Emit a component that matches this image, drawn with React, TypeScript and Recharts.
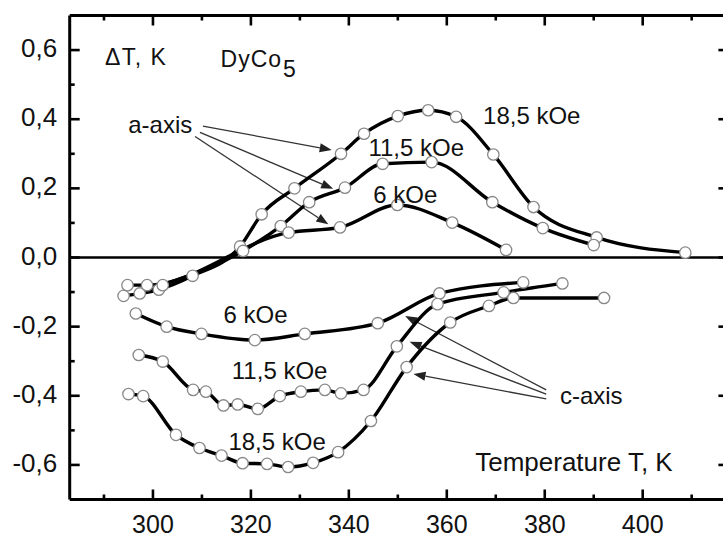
import React from 'react';
import { ComposedChart, Line, XAxis, YAxis, ReferenceLine, ReferenceDot } from 'recharts';

// ---------- data (T in K, dT in K) ----------
const a185 = [
  { t: 294.0, v: -0.111 }, { t: 301.2, v: -0.093 }, { t: 308.1, v: -0.053 }, { t: 317.8, v: 0.032 },
  { t: 322.2, v: 0.125 }, { t: 328.9, v: 0.2 }, { t: 338.4, v: 0.3 }, { t: 343.1, v: 0.358 },
  { t: 350.0, v: 0.409 }, { t: 356.2, v: 0.426 }, { t: 361.9, v: 0.407 }, { t: 369.5, v: 0.298 },
  { t: 377.7, v: 0.146 }, { t: 390.6, v: 0.058 }, { t: 408.7, v: 0.014 },
];
const a115 = [
  { t: 297.3, v: -0.104 }, { t: 302.0, v: -0.08 }, { t: 318.4, v: 0.019 }, { t: 326.1, v: 0.091 },
  { t: 331.9, v: 0.16 }, { t: 339.2, v: 0.202 }, { t: 346.9, v: 0.271 }, { t: 356.9, v: 0.276 },
  { t: 369.3, v: 0.16 }, { t: 379.6, v: 0.085 }, { t: 390.0, v: 0.036 },
];
const a6 = [
  { t: 294.8, v: -0.08 }, { t: 298.8, v: -0.08 }, { t: 327.7, v: 0.072 }, { t: 338.2, v: 0.087 },
  { t: 349.9, v: 0.152 }, { t: 361.1, v: 0.101 }, { t: 372.1, v: 0.022 },
];
const c6 = [
  { t: 296.5, v: -0.162 }, { t: 302.8, v: -0.2 }, { t: 309.9, v: -0.221 }, { t: 320.8, v: -0.239 },
  { t: 331.0, v: -0.221 }, { t: 345.9, v: -0.19 }, { t: 358.5, v: -0.104 }, { t: 375.6, v: -0.072 },
];
const c115 = [
  { t: 297.1, v: -0.282 }, { t: 302.0, v: -0.301 }, { t: 308.2, v: -0.383 }, { t: 310.8, v: -0.388 },
  { t: 314.4, v: -0.428 }, { t: 317.3, v: -0.425 }, { t: 321.4, v: -0.438 }, { t: 325.9, v: -0.401 },
  { t: 330.2, v: -0.388 }, { t: 335.1, v: -0.383 }, { t: 338.4, v: -0.393 }, { t: 343.0, v: -0.383 },
  { t: 349.8, v: -0.257 }, { t: 358.1, v: -0.135 }, { t: 371.6, v: -0.101 }, { t: 383.6, v: -0.075 },
];
const c185 = [
  { t: 295.0, v: -0.395 }, { t: 298.0, v: -0.401 }, { t: 304.7, v: -0.513 }, { t: 309.5, v: -0.551 },
  { t: 314.0, v: -0.573 }, { t: 318.3, v: -0.595 }, { t: 323.3, v: -0.597 }, { t: 327.6, v: -0.606 },
  { t: 332.7, v: -0.594 }, { t: 337.8, v: -0.563 }, { t: 344.5, v: -0.473 }, { t: 351.8, v: -0.317 },
  { t: 360.7, v: -0.188 }, { t: 368.6, v: -0.14 }, { t: 373.6, v: -0.117 }, { t: 392.1, v: -0.117 },
];

const xDomain = [283, 417.5];
const yDomain = [-0.7, 0.7];
const xTicks = [290, 300, 310, 320, 330, 340, 350, 360, 370, 380, 390, 400, 410];
const xLabelTicks = [300, 320, 340, 360, 380, 400];
const yTicks = [-0.6, -0.5, -0.4, -0.3, -0.2, -0.1, 0, 0.1, 0.2, 0.3, 0.4, 0.5, 0.6];
const yLabelTicks = [-0.6, -0.4, -0.2, 0, 0.2, 0.4, 0.6];

// text annotations (anchored at data coordinates: left edge / baseline)
const labels = [
  { t: 367.4, v: 0.385, text: '18,5 kOe', size: 24 },
  { t: 344.0, v: 0.294, text: '11,5 kOe', size: 24 },
  { t: 345.0, v: 0.159, text: '6 kOe', size: 24 },
  { t: 314.4, v: -0.189, text: '6 kOe', size: 24 },
  { t: 316.1, v: -0.351, text: '11,5 kOe', size: 24 },
  { t: 315.4, v: -0.557, text: '18,5 kOe', size: 24 },
  { t: 294.96, v: 0.359, text: 'a-axis', size: 24 },
  { t: 383.1, v: -0.425, text: 'c-axis', size: 24 },
  { t: 365.8, v: -0.617, text: 'Temperature T, K', size: 26 },
];
const yTitle = { t: 290.2, v: 0.557, text: '\u0394T, K' };
const compound = { t: 313.8, v: 0.552, base: 'DyCo', sub: '5' };

// arrows: from (t1,v1) to tip (t2,v2)
const arrows = [
  { t1: 310.2, v1: 0.38, t2: 336.5, v2: 0.311 },
  { t1: 309.6, v1: 0.362, t2: 336.8, v2: 0.199 },
  { t1: 308.6, v1: 0.35, t2: 335.8, v2: 0.096 },
  { t1: 380.3, v1: -0.383, t2: 351.5, v2: -0.169 },
  { t1: 380.3, v1: -0.395, t2: 352.4, v2: -0.244 },
  { t1: 380.3, v1: -0.409, t2: 353.2, v2: -0.337 },
];

const FONT = '"Liberation Sans", Arial, Helvetica, sans-serif';
const isMajorX = (v: number) => v % 20 === 0;
const isMajorY = (v: number) => Math.round(v * 10) % 2 === 0;

const BottomTick = (p: any) => {
  const { x, y, payload } = p;
  const v = payload.value;
  const major = isMajorX(v);
  return (
    <g>
      <line x1={x} x2={x} y1={y} y2={y - (major ? 10 : 5)} stroke="#000" strokeWidth={2.6} />
      {xLabelTicks.includes(v) && (
        <text x={x} y={y + 33} textAnchor="middle" fontSize={25} fontFamily={FONT} fill="#111">{v}</text>
      )}
    </g>
  );
};
const TopTick = (p: any) => {
  const { x, y, payload } = p;
  const major = isMajorX(payload.value);
  return <line x1={x} x2={x} y1={y} y2={y + (major ? 10 : 5)} stroke="#000" strokeWidth={2.6} />;
};
const LeftTick = (p: any) => {
  const { x, y, payload } = p;
  const v = payload.value;
  const major = isMajorY(v);
  const show = yLabelTicks.some((u) => Math.abs(u - v) < 1e-9);
  return (
    <g>
      <line x1={x} x2={x + (major ? 10 : 5)} y1={y} y2={y} stroke="#000" strokeWidth={2.6} />
      {show && (
        <text x={x - 12.5} y={y + 7} textAnchor="end" fontSize={26} fontFamily={FONT} fill="#111">
          {v.toFixed(1).replace('.', ',')}
        </text>
      )}
    </g>
  );
};
const RightTick = (p: any) => {
  const { x, y, payload } = p;
  const major = isMajorY(payload.value);
  return <line x1={x} x2={x - (major ? 10 : 5)} y1={y} y2={y} stroke="#000" strokeWidth={2.6} />;
};

const Dot = (p: any) => {
  const { cx, cy, index } = p;
  if (cx == null || cy == null) return <g key={index} />;
  return <circle key={index} cx={cx} cy={cy} r={5.7} fill="#fff" stroke="#888" strokeWidth={1.3} />;
};

const Arrow = (p: any) => {
  const { x1, y1, x2, y2 } = p;
  const dx = x2 - x1;
  const dy = y2 - y1;
  const len = Math.sqrt(dx * dx + dy * dy) || 1;
  const ux = dx / len;
  const uy = dy / len;
  const L = 12;
  const W = 4.5;
  const bx = x2 - ux * L;
  const by = y2 - uy * L;
  const pts = `${x2},${y2} ${bx - uy * W},${by + ux * W} ${bx + uy * W},${by - ux * W}`;
  return (
    <g>
      <line x1={x1} y1={y1} x2={bx} y2={by} stroke="#333" strokeWidth={1.3} />
      <polygon points={pts} fill="#222" />
    </g>
  );
};

const series = [a185, a115, a6, c6, c115, c185];

export default function App() {
  return (
    <div style={{ position: 'absolute', left: 0, top: 0, width: 723, height: 538, overflow: 'hidden', background: '#fff' }}>
      <ComposedChart width={735} height={538} margin={{ top: 14.5, right: 5.6, bottom: 37.5, left: 68.7 }}>
        <XAxis xAxisId="b" type="number" dataKey="t" orientation="bottom" domain={xDomain} ticks={xTicks}
          allowDataOverflow height={1} tickSize={0} tickMargin={0} tickLine={false}
          axisLine={{ stroke: '#000', strokeWidth: 3 }} tick={<BottomTick />} interval={0} />
        <XAxis xAxisId="t" type="number" dataKey="t" orientation="top" domain={xDomain} ticks={xTicks}
          allowDataOverflow height={1} tickSize={0} tickMargin={0} tickLine={false}
          axisLine={{ stroke: '#000', strokeWidth: 3 }} tick={<TopTick />} interval={0} />
        <YAxis yAxisId="l" type="number" dataKey="v" orientation="left" domain={yDomain} ticks={yTicks}
          allowDataOverflow width={1} tickSize={0} tickMargin={0} tickLine={false}
          axisLine={{ stroke: '#000', strokeWidth: 3 }} tick={<LeftTick />} interval={0} />
        <YAxis yAxisId="r" type="number" dataKey="v" orientation="right" domain={yDomain} ticks={yTicks}
          allowDataOverflow width={1} tickSize={0} tickMargin={0} tickLine={false}
          axisLine={{ stroke: '#000', strokeWidth: 3 }} tick={<RightTick />} interval={0} />

        <ReferenceLine xAxisId="b" yAxisId="l" y={0} stroke="#000" strokeWidth={2.6} />

        {arrows.map((a, i) => (
          <ReferenceLine key={'ar' + i} xAxisId="b" yAxisId="l" ifOverflow="visible"
            segment={[{ x: a.t1, y: a.v1 }, { x: a.t2, y: a.v2 }]} shape={<Arrow />} />
        ))}

        {series.map((d, i) => (
          <Line key={'s' + i} xAxisId="b" yAxisId="l" data={d} dataKey="v" type="monotone"
            stroke="#000" strokeWidth={3.4} dot={<Dot />} activeDot={false} isAnimationActive={false} />
        ))}

        {labels.map((l, i) => (
          <ReferenceDot key={'lb' + i} xAxisId="b" yAxisId="l" x={l.t} y={l.v} r={0} ifOverflow="visible"
            shape={(p: any) => (
              <text x={p.cx} y={p.cy} fontSize={l.size} fontFamily={FONT} fill="#111">{l.text}</text>
            )} />
        ))}
        <ReferenceDot xAxisId="b" yAxisId="l" x={yTitle.t} y={yTitle.v} r={0} ifOverflow="visible"
          shape={(p: any) => (
            <text x={p.cx} y={p.cy} fontSize={23} fontFamily={FONT} fill="#111" letterSpacing={1.5}>{yTitle.text}</text>
          )} />
        <ReferenceDot xAxisId="b" yAxisId="l" x={compound.t} y={compound.v} r={0} ifOverflow="visible"
          shape={(p: any) => (
            <text x={p.cx} y={p.cy} fontSize={23} fontFamily={FONT} fill="#111" letterSpacing={1}>
              {compound.base}
              <tspan dy={10} dx={1}>{compound.sub}</tspan>
            </text>
          )} />
      </ComposedChart>
    </div>
  );
}
